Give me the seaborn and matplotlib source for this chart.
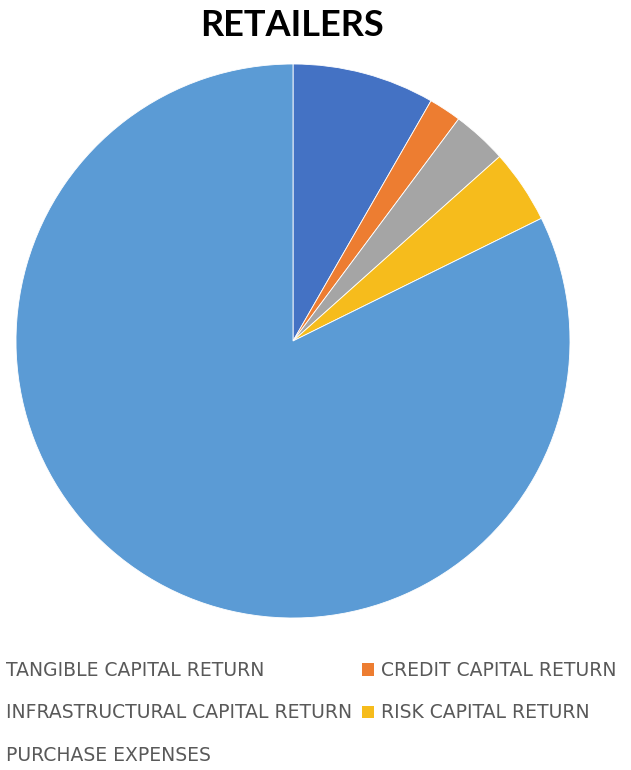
import matplotlib
matplotlib.use("Agg")
import matplotlib.pyplot as plt
from matplotlib.patches import Patch
import seaborn as sns

# Share of retailer costs by component (percent)
categories = [
    "TANGIBLE CAPITAL RETURN",
    "CREDIT CAPITAL RETURN",
    "INFRASTRUCTURAL CAPITAL RETURN",
    "RISK CAPITAL RETURN",
    "PURCHASE EXPENSES",
]
shares = [8.3, 1.9, 3.2, 4.3, 82.3]
colors = ["#4472C4", "#ED7D31", "#A5A5A5", "#F6BC1C", "#5B9BD5"]
title = "RETAILERS"

sns.set_theme(style="white")
plt.rcParams["font.family"] = ["Liberation Sans Narrow", "DejaVu Sans"]

W, H = 631, 770
fig = plt.figure(figsize=(W / 100, H / 100), dpi=100)
fig.patch.set_facecolor("white")

cx, cy, r = 293, 341, 277
ax = fig.add_axes([(cx - r) / W, (H - cy - r) / H, 2 * r / W, 2 * r / H])
palette = sns.color_palette(colors)
ax.pie(shares, colors=palette, startangle=90, counterclock=False, radius=1,
       wedgeprops=dict(edgecolor="white", linewidth=0.6))
ax.set_xlim(-1, 1)
ax.set_ylim(-1, 1)
ax.set_aspect("equal")
ax.axis("off")

fig.text(292 / W, 1 - 26 / H, title, ha="center", va="center",
         fontsize=26, fontweight="bold", family=["Lato", "DejaVu Sans"], color="black")

# Legend: left column holds entries 0, 2, 4; right column entries 1, 3
order = [0, 2, 4, 1, 3]
handles = [Patch(facecolor=colors[i], edgecolor="none") for i in order]
labels = [categories[i] for i in order]
leg = fig.legend(handles, labels, ncol=2, frameon=False,
                 loc="upper left", bbox_to_anchor=(-13 / W, 1 - 661 / H),
                 fontsize=13.5, labelcolor="#595959",
                 handlelength=0.65, handleheight=0.65, handletextpad=0.37,
                 columnspacing=0.5, labelspacing=1.25, borderpad=0, borderaxespad=0)

fig.savefig("out.png", dpi=100, facecolor="white")
